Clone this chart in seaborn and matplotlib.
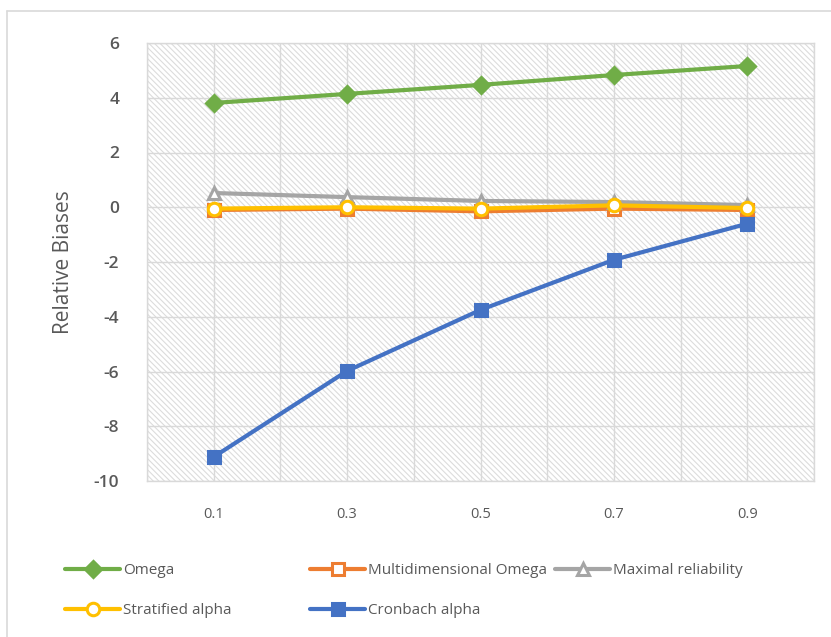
import pandas as pd
import seaborn as sns

import matplotlib
matplotlib.use("Agg")  # headless mode (no GUI)

import matplotlib.pyplot as plt
from matplotlib.patches import Rectangle
from matplotlib.lines import Line2D

# data
proportion = [0.1, 0.3, 0.5, 0.7, 0.9]
omega = [3.81, 4.14, 4.47, 4.83, 5.16]
multi_omega = [-0.10, -0.05, -0.15, -0.05, -0.10]
maximal_rel = [0.52, 0.37, 0.23, 0.19, 0.08]
stratified_alpha = [-0.05, 0.00, -0.05, 0.07, -0.03]
cronbach_alpha = [-9.12, -5.98, -3.75, -1.92, -0.60]

series = [
    ("Omega", omega, "#70AD47", "D", "#70AD47"),
    ("Multidimensional Omega", multi_omega, "#ED7D31", "s", "white"),
    ("Maximal reliability", maximal_rel, "#A5A5A5", "^", "white"),
    ("Stratified alpha", stratified_alpha, "#FFC000", "o", "white"),
    ("Cronbach alpha", cronbach_alpha, "#4472C4", "s", "#4472C4"),
]

sns.set_style("white")
plt.rcParams["font.family"] = ["Open Sans", "DejaVu Sans"]
plt.rcParams["axes.unicode_minus"] = False
plt.rcParams["hatch.linewidth"] = 0.8

fig = plt.figure(figsize=(8.31, 6.37), dpi=100)
ax = fig.add_axes([147 / 831, 1 - 481 / 637, (814 - 147) / 831, (481 - 43) / 637])

# hatched plot area
ax.add_patch(Rectangle((0, 0), 1, 1, transform=ax.transAxes, facecolor="white",
                       edgecolor="#DCDCDC", hatch="\\" * 6, linewidth=0, zorder=0))

handles = {}
for name, vals, col, mk, fc in series:
    df = pd.DataFrame({"p": proportion, "v": vals})
    ms = 8 if mk == "D" else 9
    sns.lineplot(data=df, x="p", y="v", ax=ax, color=col, linewidth=3.0,
                 marker=mk, markersize=ms,
                 markerfacecolor=fc, markeredgecolor=col, markeredgewidth=2.2,
                 zorder=3)
    handles[name] = Line2D([], [], color=col, linewidth=3.0, marker=mk,
                           markersize=ms, markerfacecolor=fc,
                           markeredgecolor=col, markeredgewidth=2.2)

ax.set_xlim(0, 1.0)
ax.set_ylim(-10, 6)
ax.set_yticks(range(-10, 7, 2))
ax.set_xticks(proportion)
ax.set_xticks([0.0, 0.2, 0.4, 0.6, 0.8, 1.0], minor=True)
ax.set_xticklabels([str(p) for p in proportion])
ax.grid(True, which="both", color="#D9D9D9", linewidth=1.0, zorder=1)
ax.set_axisbelow(True)
ax.tick_params(axis="y", length=0, pad=20, labelsize=12.5, labelcolor="#595959")
ax.tick_params(axis="x", which="both", length=0, pad=19, labelsize=10.5, labelcolor="#595959")
for lab in ax.get_yticklabels():
    lab.set_fontweight("semibold")
for s in ax.spines.values():
    s.set_color("#D9D9D9")
    s.set_linewidth(1.0)

ax.set_xlabel("")
ax.set_ylabel("Relative Biases", fontsize=15, color="#595959", labelpad=14)

# legend in three columns below the chart
cols = [
    (65, ["Omega", "Stratified alpha"]),
    (310, ["Multidimensional Omega", "Cronbach alpha"]),
    (555, ["Maximal reliability"]),
]
for x0, names in cols:
    fig.legend([handles[n] for n in names], names, loc="upper left",
               bbox_to_anchor=(x0 / 831, 1 - 563 / 637), frameon=False,
               fontsize=11, handlelength=3.6, handletextpad=0.2,
               labelspacing=1.65, borderpad=0, borderaxespad=0,
               labelcolor="#595959")

# outer chart border (top and left visible in the crop)
fig.add_artist(Line2D([7 / 831, 1], [1 - 11 / 637, 1 - 11 / 637], color="#D9D9D9", linewidth=1.2))
fig.add_artist(Line2D([7 / 831, 7 / 831], [0, 1 - 11 / 637], color="#D9D9D9", linewidth=1.2))

plt.savefig("out.png", dpi=100)
